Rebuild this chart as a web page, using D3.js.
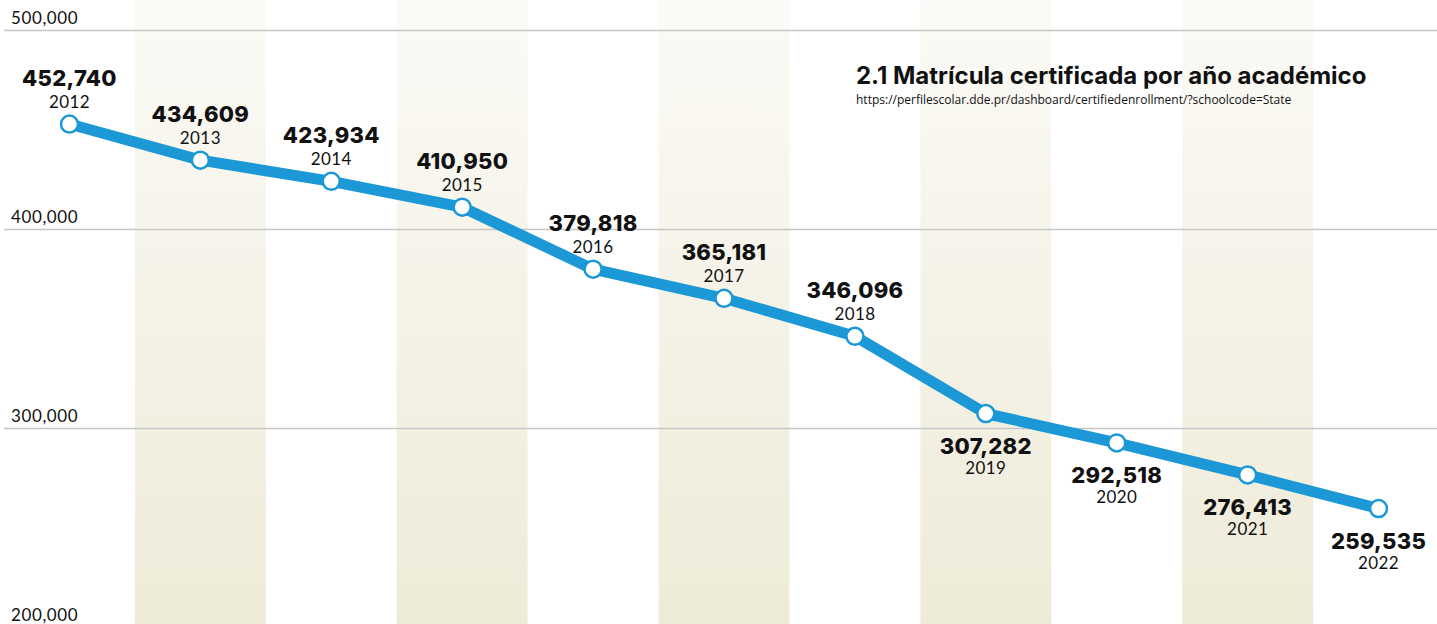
<!doctype html>
<html lang="es">
<head>
<meta charset="UTF-8">
<title>Matrícula certificada</title>
<script src="https://d3js.org/d3.v7.min.js"></script>
<style>
  body { margin: 0; background: #fff; }
  svg { display: block; }
</style>
</head>
<body>
<div id="chart-area"></div>
<script>
const chartW = 1437;
const chartH = 624;

const years  = ['2012', '2013', '2014', '2015', '2016', '2017', '2018', '2019', '2020', '2021', '2022'];
const values = [452740, 434609, 423934, 410950, 379818, 365181, 346096, 307282, 292518, 276413, 259535];
const yTicks = [200000, 300000, 400000, 500000];
// labels above the point until 2018, below after
const labelBelow = [false, false, false, false, false, false, false, true, true, true, true];

const title  = '2.1 Matrícula certificada por año académico';
const source = 'https://perfilescolar.dde.pr/dashboard/certifiedenrollment/?schoolcode=State';

const svg = d3.select('#chart-area')
    .append('svg')
    .attr('width', chartW)
    .attr('height', chartH);

const defs = svg.append('defs');
const grad = defs.append('linearGradient')
    .attr('id', 'bandGrad')
    .attr('x1', 0).attr('y1', 0).attr('x2', 0).attr('y2', 1);
grad.append('stop').attr('offset', '0%').attr('stop-color', '#fbfaf6');
grad.append('stop').attr('offset', '100%').attr('stop-color', '#eeebd8');

const x = d3.scaleBand()
    .domain(years)
    .range([4, 1444])
    .padding(0);

const y = d3.scaleLinear()
    .domain([200000, 500000])
    .range([627, 30]);

// alternate shaded columns
svg.append('g')
    .selectAll('rect')
    .data(years.filter((d, i) => i % 2 === 1))
    .join('rect')
    .attr('x', d => x(d))
    .attr('y', 0)
    .attr('width', x.bandwidth())
    .attr('height', chartH)
    .attr('fill', 'url(#bandGrad)');

// grid + tick labels
const yAxis = svg.append('g')
    .attr('transform', 'translate(4,0)')
    .call(d3.axisRight(y)
        .tickValues(yTicks)
        .tickSize(chartW)
        .tickFormat(d3.format(',')));
yAxis.select('.domain').remove();
yAxis.selectAll('.tick line')
    .attr('stroke', '#c6c6c6')
    .attr('stroke-width', 1.5);
yAxis.selectAll('.tick text')
    .attr('x', 7)
    .attr('dy', -7)
    .attr('fill', '#111')
    .style('font-family', 'Lato, sans-serif')
    .style('font-size', '17px')
    .style('letter-spacing', '0.6px');

const data = years.map((yr, i) => ({ year: yr, value: values[i], below: labelBelow[i] }));
const cx = d => x(d.year) + x.bandwidth() / 2;

const line = d3.line()
    .x(cx)
    .y(d => y(d.value));

svg.append('path')
    .datum(data)
    .attr('d', line)
    .attr('fill', 'none')
    .attr('stroke', '#1b98d5')
    .attr('stroke-width', 11)
    .attr('stroke-linejoin', 'round');

svg.append('g')
    .selectAll('circle')
    .data(data)
    .join('circle')
    .attr('cx', cx)
    .attr('cy', d => y(d.value))
    .attr('r', 8.5)
    .attr('fill', '#fff')
    .attr('stroke', '#1b98d5')
    .attr('stroke-width', 2.5);

const labels = svg.append('g')
    .selectAll('g')
    .data(data)
    .join('g')
    .attr('transform', d => `translate(${cx(d)},${y(d.value)})`)
    .attr('text-anchor', 'middle');

labels.append('text')
    .attr('y', d => d.below ? 40 : -38)
    .style('font-family', 'Inter, sans-serif')
    .style('font-weight', 800)
    .style('font-size', '22px')
    .style('letter-spacing', '0.3px')
    .attr('fill', '#111')
    .text(d => d3.format(',')(d.value));

labels.append('text')
    .attr('y', d => d.below ? 60 : -16)
    .style('font-family', 'Lato, sans-serif')
    .style('font-size', '17px')
    .style('letter-spacing', '0.4px')
    .attr('fill', '#111')
    .text(d => d.year);

svg.append('text')
    .attr('x', 856)
    .attr('y', 84)
    .style('font-family', 'Inter, sans-serif')
    .style('font-weight', 700)
    .style('font-size', '24px')
    .attr('fill', '#111')
    .text(title);

svg.append('text')
    .attr('x', 856)
    .attr('y', 104)
    .style('font-family', '"Open Sans", sans-serif')
    .style('font-size', '12px')
    .attr('fill', '#111')
    .text(source);
</script>
</body>
</html>
